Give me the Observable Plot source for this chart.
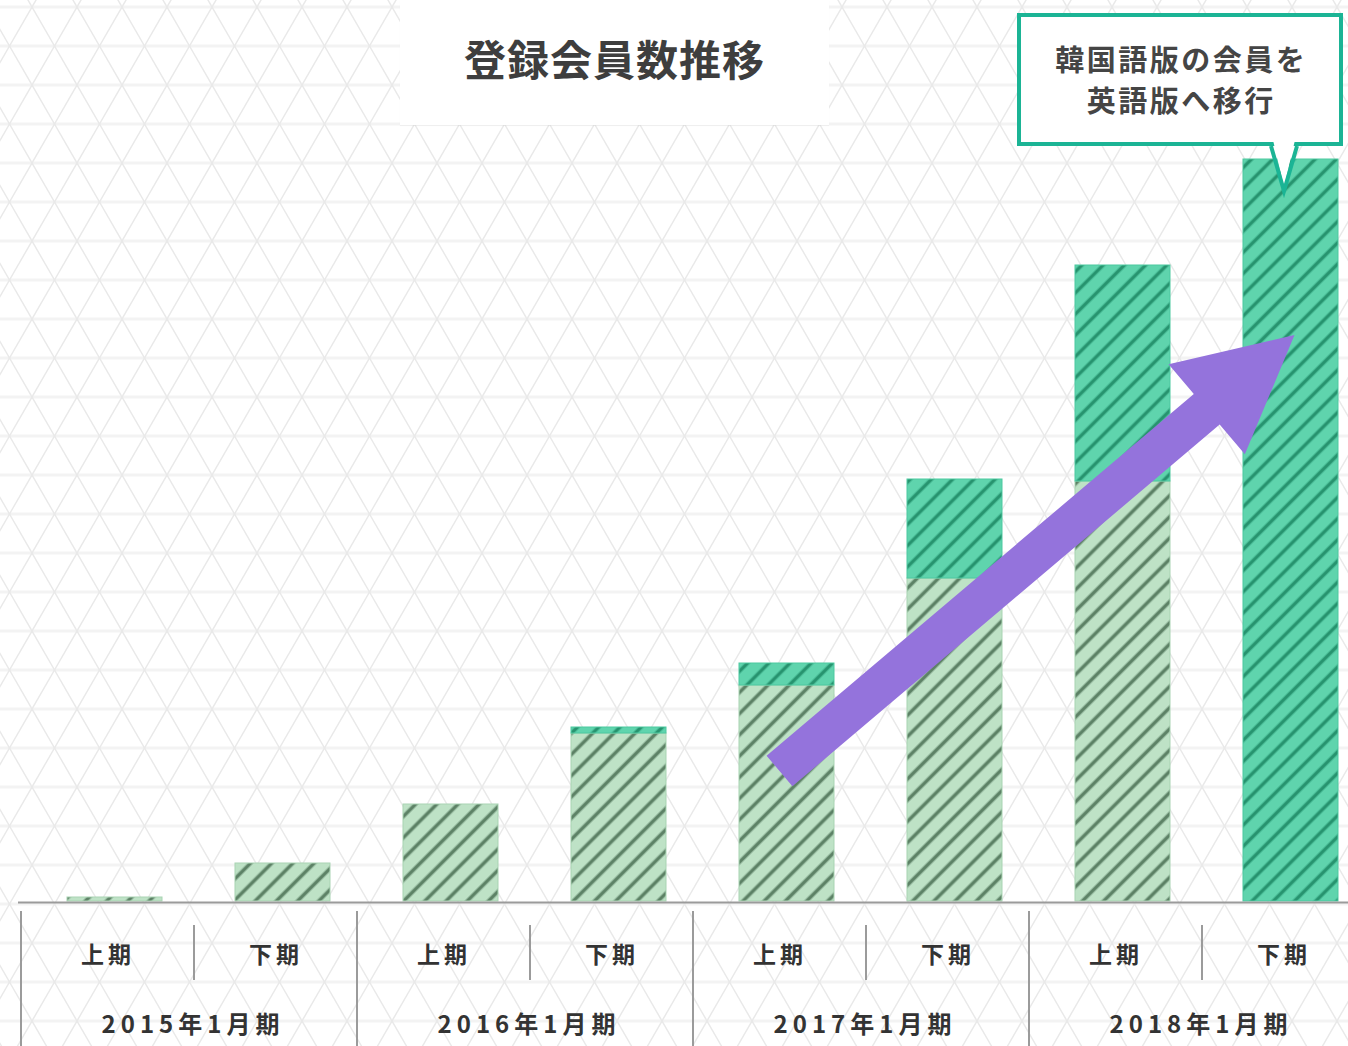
<!DOCTYPE html>
<html lang="ja">
<head>
<meta charset="utf-8">
<script src="https://cdn.jsdelivr.net/npm/d3@7"></script>
<script src="https://cdn.jsdelivr.net/npm/@observablehq/plot@0.6"></script>
<style>
html, body { margin: 0; padding: 0; background: #fff; }
body { width: 1348px; height: 1046px; overflow: hidden; font-family: "Noto Sans CJK JP", "Noto Sans", sans-serif; }
#stage { position: relative; width: 1348px; height: 1046px; background-color: #fff; background-repeat: repeat; }
#chart { position: absolute; left: 0; top: 0; }
#axis { position: absolute; left: 0; top: 903px; }
#titlebox { position: absolute; left: 400px; top: 0; width: 429px; height: 125px; background: #fff;
  box-shadow: 0 1px 1px rgba(0,0,0,0.04); display: flex; align-items: center; justify-content: center; }
#title { font-size: 42px; font-weight: 700; color: #3e3e3e; letter-spacing: 1px; margin-top: -10px; }
#callout { position: absolute; left: 1017px; top: 13px; width: 318px; height: 125px; border: 4px solid #1bb495;
  background: #fff; }
#callout div { position: absolute; left: 0; width: 318px; text-align: center; font-size: 29px; font-weight: 700;
  color: #454545; line-height: 42px; letter-spacing: 2.5px; text-indent: 2.5px; }
#overlay { position: absolute; left: 0; top: 0; pointer-events: none; }
</style>
</head>
<body>
<svg width="0" height="0" style="position:absolute">
  <defs>
    <pattern id="hatchLight" patternUnits="userSpaceOnUse" width="15" height="15" patternTransform="rotate(-45)">
      <rect width="15" height="15" fill="#bee2c6"/>
      <rect y="5.4" width="15" height="4.2" fill="#88ab91"/>
      <rect y="6.2" width="15" height="2.6" fill="#5a7f63"/>
    </pattern>
    <pattern id="hatchDark" patternUnits="userSpaceOnUse" width="15" height="15" patternTransform="rotate(-45)">
      <rect width="15" height="15" fill="#5fd4ad"/>
      <rect y="5.4" width="15" height="4.2" fill="#40b48d"/>
      <rect y="6.2" width="15" height="2.6" fill="#25916d"/>
    </pattern>
  </defs>
</svg>
<div id="stage">
  <div id="chart"></div>
  <div id="axis"></div>
  <div id="titlebox"><div id="title">登録会員数推移</div></div>
  <div id="callout"><div style="top:20px">韓国語版の会員を</div><div style="top:61px">英語版へ移行</div></div>
  <svg id="overlay" width="1348" height="1046"></svg>
</div>
<script>
// ---------- data ----------
const periods = ["2015上", "2015下", "2016上", "2016下", "2017上", "2017下", "2018上", "2018下"];
const halfLabels = ["上期", "下期", "上期", "下期", "上期", "下期", "上期", "下期"];
const fiscalYears = ["2015年1月期", "2016年1月期", "2017年1月期", "2018年1月期"];
const yearFirstPeriod = ["2015上", "2016上", "2017上", "2018上"];
const seriesNames = ["既存会員", "移行会員"];
const existingMembers = [4, 38, 97, 168, 216, 323, 420, 0];
const migratedMembers = [0, 0, 0, 6, 22, 99, 216, 742];
const arrowFrom = {period: "2017上", value: 130};
const arrowTo = {period: "2018下", value: 566};

// ---------- background lattice ----------
(function () {
  const s = 45, h = 39, W = s, H = 2 * h;
  const svg = `<svg xmlns="http://www.w3.org/2000/svg" width="${W}" height="${H}">` +
    `<g stroke="#f3f3f3" stroke-width="3">` +
    `<line x1="0" y1="0" x2="${W}" y2="0"/><line x1="0" y1="${h}" x2="${W}" y2="${h}"/><line x1="0" y1="${H}" x2="${W}" y2="${H}"/></g>` +
    `<g stroke="#e9e9e9" stroke-width="1.5">` +
    `<line x1="0" y1="0" x2="${s/2}" y2="${h}"/><line x1="${s}" y1="0" x2="${s/2}" y2="${h}"/>` +
    `<line x1="${s/2}" y1="${h}" x2="0" y2="${H}"/><line x1="${s/2}" y1="${h}" x2="${s}" y2="${H}"/></g></svg>`;
  const st = document.getElementById("stage");
  st.style.backgroundImage = `url("data:image/svg+xml,${encodeURIComponent(svg)}")`;
  st.style.backgroundSize = `${W}px ${H}px`;
  st.style.backgroundPosition = `31.7px 6.7px`;
})();

// ---------- shared x scale ----------
const xOpts = {type: "band", domain: periods, paddingInner: 0.4345, paddingOuter: 0.1756, align: 0.8305, round: false, axis: null};

const rows = periods.flatMap((p, i) => [
  {period: p, series: seriesNames[0], value: existingMembers[i]},
  {period: p, series: seriesNames[1], value: migratedMembers[i]}
]).filter(d => d.value > 0);

const fills = {[seriesNames[0]]: "url(#hatchLight)", [seriesNames[1]]: "url(#hatchDark)"};
const strokes = {[seriesNames[0]]: "#a9d4b3", [seriesNames[1]]: "#4cc9a0"};

const chart = Plot.plot({
  width: 1348, height: 903,
  marginTop: 0, marginBottom: 2, marginLeft: 18, marginRight: 0,
  style: {background: "transparent", overflow: "visible"},
  x: xOpts,
  y: {domain: [0, 901], axis: null},
  color: {type: "identity"},
  marks: [
    Plot.barY(rows, {x: "period", y: "value", z: "series", order: seriesNames,
      fill: d => fills[d.series], stroke: d => strokes[d.series], strokeWidth: 1}),
    Plot.ruleY([0], {stroke: "#9b9b9b", strokeWidth: 2, dy: 1})
  ]
});
document.getElementById("chart").appendChild(chart);

const xs = chart.scale("x"), ys = chart.scale("y");
const step = xs.step;

// ---------- arrow annotation ----------
(function () {
  const cx = p => xs.apply(p) + xs.bandwidth / 2;
  const T = [cx(arrowFrom.period) - 7, ys.apply(arrowFrom.value)];
  const P = [cx(arrowTo.period) + 4, ys.apply(arrowTo.value)];
  const dx = P[0] - T[0], dy = P[1] - T[1], L = Math.hypot(dx, dy);
  const u = [dx / L, dy / L], n = [-u[1], u[0]];
  const w = 20, hl = 115, hw = 59;
  const B = [P[0] - u[0] * hl, P[1] - u[1] * hl];
  const pt = (o, k) => [o[0] + n[0] * k, o[1] + n[1] * k];
  const pts = [pt(T, w), pt(B, w), pt(B, hw), P, pt(B, -hw), pt(B, -w), pt(T, -w)];
  d3.select(chart).append("polygon")
    .attr("points", pts.map(p => p.join(",")).join(" "))
    .attr("fill", "#9473dc");
})();

// ---------- category axis (two rows) ----------
const axisRows = ["半期", "年度"];
const halfData = periods.map((p, i) => ({period: p, label: halfLabels[i]}));
const yearData = fiscalYears.map((y, i) => ({period: yearFirstPeriod[i], label: y}));

const axis = Plot.plot({
  width: 1348, height: 143,
  marginTop: 8, marginBottom: 0, marginLeft: 18, marginRight: 0,
  style: {background: "transparent", overflow: "visible"},
  x: xOpts,
  y: {type: "band", domain: axisRows, range: [17, 157], padding: 0, axis: null},
  marks: [
    Plot.ruleX(yearFirstPeriod, {x: d => d, dx: -step / 2 - 10, stroke: "#9b9b9b", strokeWidth: 2}),
    Plot.ruleX(yearFirstPeriod, {x: d => d, y1: () => axisRows[0], y2: () => axisRows[0],
      insetTop: 5, insetBottom: 10, dx: step / 2 - 5, stroke: "#9b9b9b", strokeWidth: 2}),
    Plot.text(halfData, {x: "period", y: () => axisRows[0], text: "label", dx: -7,
      fontSize: 23, fontWeight: 700, fill: "#333", fontFamily: "Noto Sans CJK JP"}),
    Plot.text(yearData, {x: "period", y: () => axisRows[1], text: "label", dx: step / 2 - 6,
      fontSize: 24, fontWeight: 700, fill: "#333", fontFamily: "Noto Sans CJK JP"})
  ]
});
document.getElementById("axis").appendChild(axis);
d3.select(axis).selectAll("text").each(function () {
  const t = this.textContent;
  this.style.letterSpacing = t.length > 3 ? "5px" : "4px";
});

// ---------- callout tail ----------
(function () {
  const ov = d3.select("#overlay");
  ov.append("polygon").attr("points", "1273,140 1284,187 1295,140").attr("fill", "#fff");
  ov.append("polyline").attr("points", "1271,146 1284,191 1297,146")
    .attr("fill", "none").attr("stroke", "#1bb495").attr("stroke-width", 4).attr("stroke-linejoin", "miter");
})();
</script>
</body>
</html>
